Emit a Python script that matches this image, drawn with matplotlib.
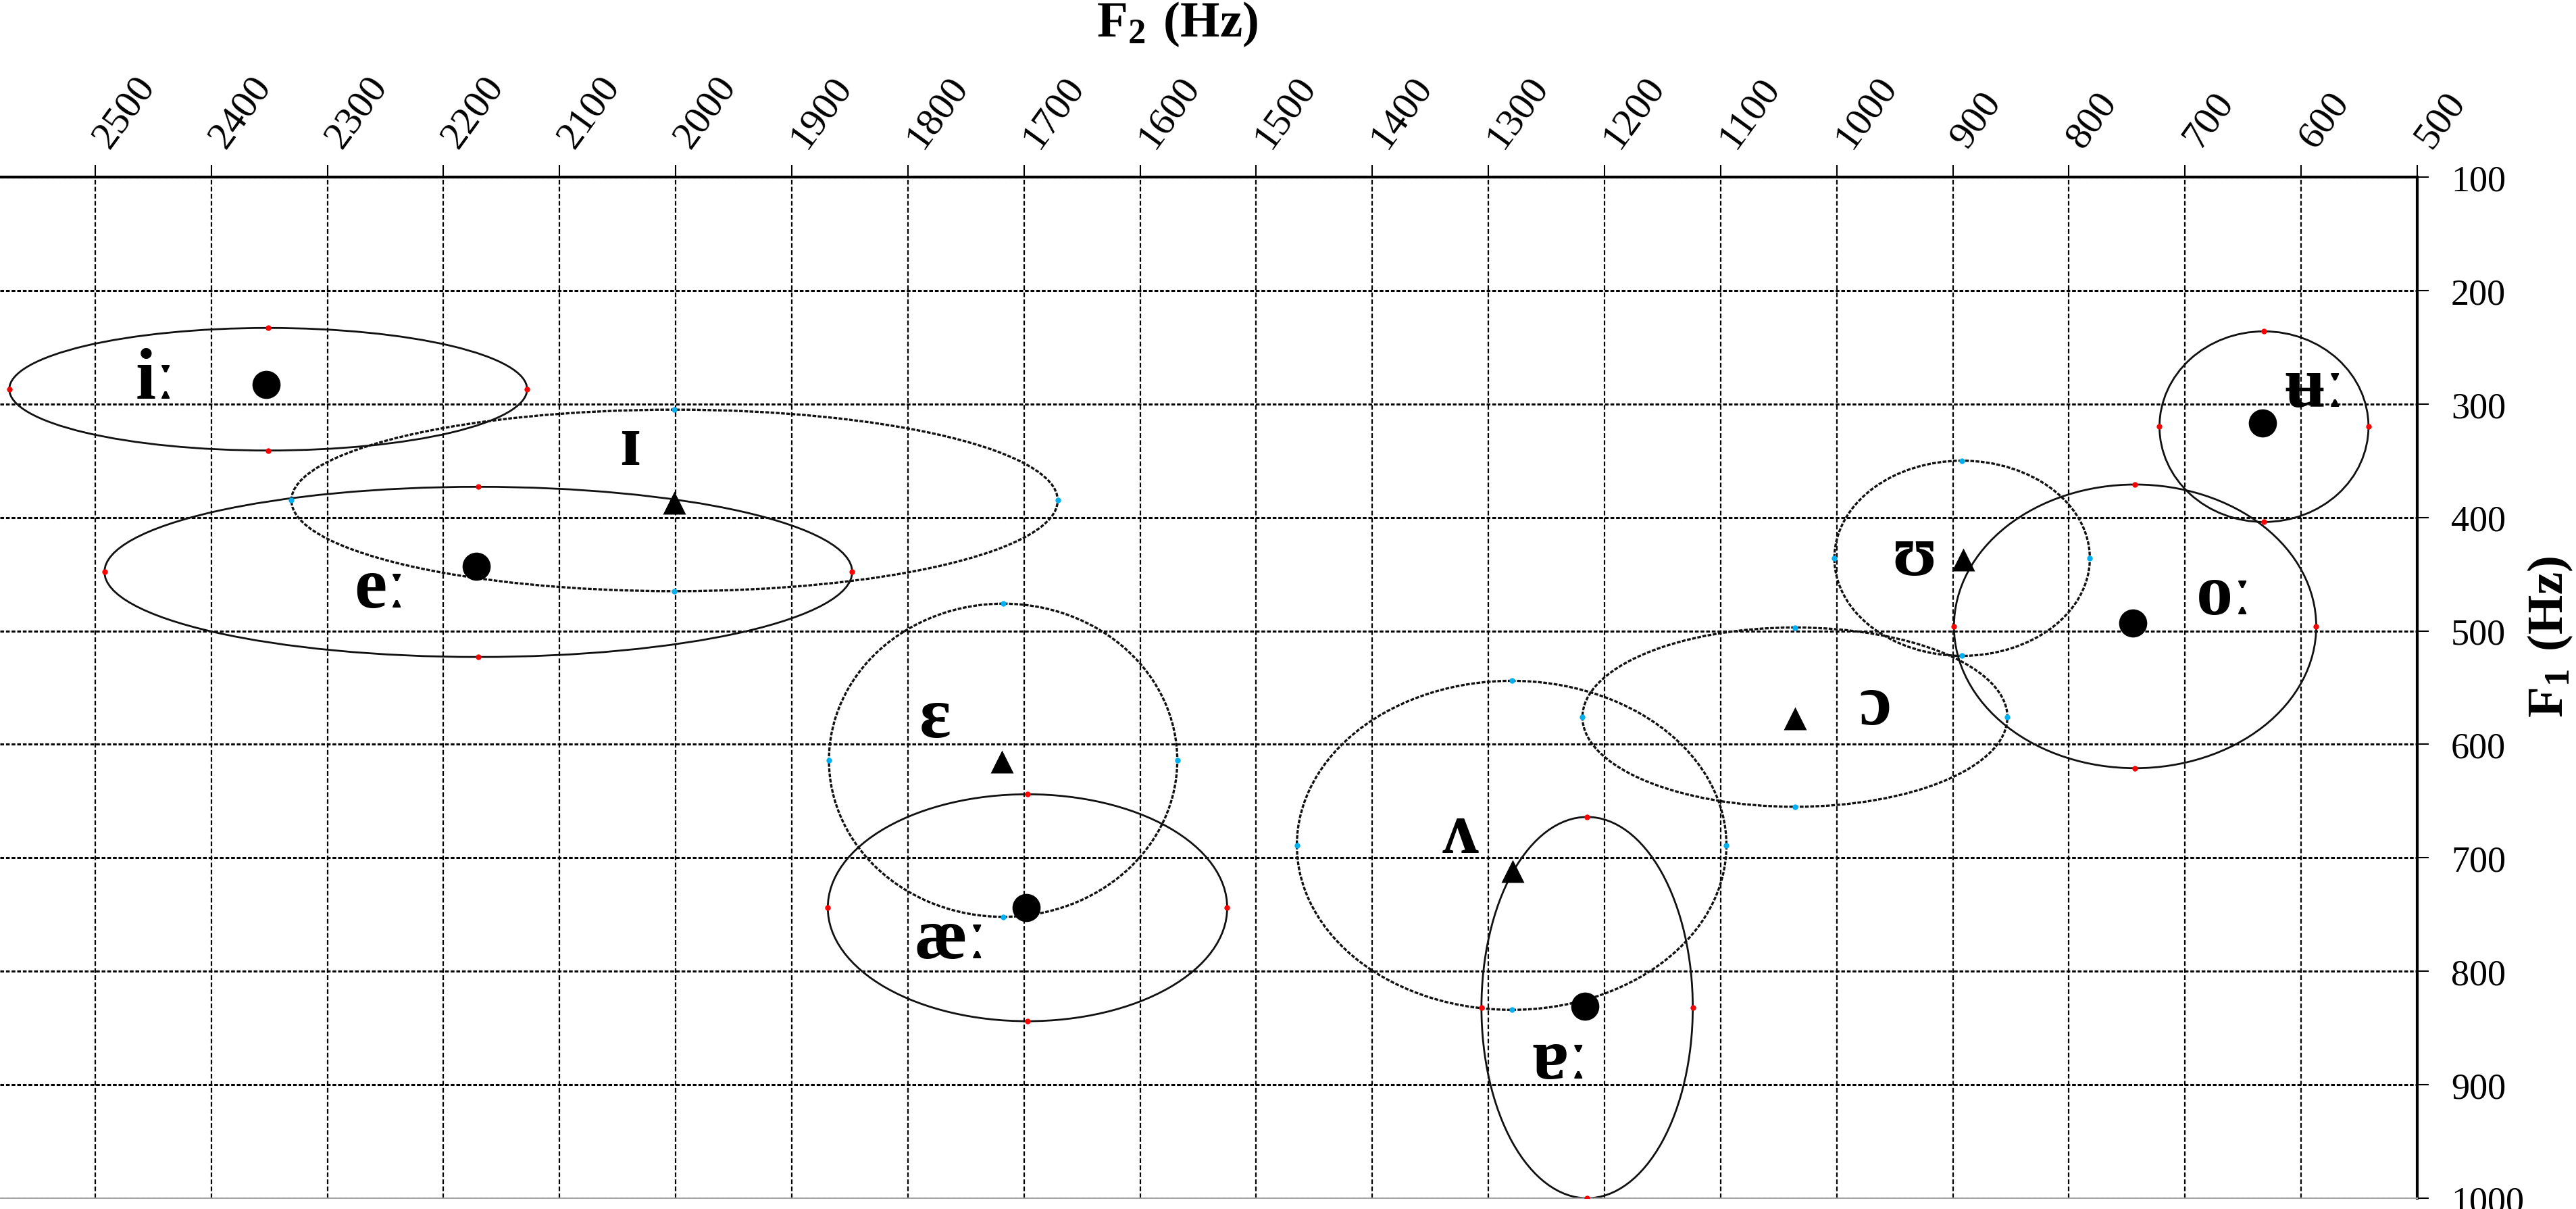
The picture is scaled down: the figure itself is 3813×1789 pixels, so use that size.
import matplotlib
matplotlib.use('Agg')
import matplotlib.pyplot as plt
import matplotlib.transforms as mtransforms
import numpy as np

from matplotlib.patches import Ellipse

plt.rcParams['font.family'] = ['Liberation Serif', 'DejaVu Serif']
plt.rcParams['mathtext.fontset'] = 'custom'
plt.rcParams['mathtext.rm'] = 'Liberation Serif'
plt.rcParams['mathtext.bf'] = 'Liberation Serif:bold'
plt.rcParams['lines.scale_dashes'] = False

# Vowel means and spread ellipses, all in Hz.
vowels = ['iː', 'ɪ', 'eː', 'ɛ', 'æː', 'ʌ', 'ɐː', 'ɔ', 'ʊ', 'oː', 'ʉː']
is_long = [True, False, True, False, True, False, True, False, False, True, True]
f2_mean = [2353, 2001, 2172, 1719, 1698, 1279, 1217, 1036, 891, 745, 633]
f1_mean = [283, 387, 443, 615, 744, 712, 831, 577, 437, 493, 317]
f2_centre = [2351, 2001, 2170, 1718, 1697, 1280, 1215, 1036, 892, 743, 632]
f1_centre = [287, 385, 448, 614, 744, 689, 832, 576, 436, 496, 320]
f2_radius = [223, 330, 322, 150, 172, 185, 91, 183, 110, 156, 90]
f1_radius = [54, 80, 75, 138, 100, 145, 168, 79, 86, 125, 84]

# Where the vowel symbols sit (centre of text, baseline), Hz.
label_f2 = [2448, 2039, 2254, 1777, 1763, 1324, 1238, 967, 933, 666, 588]
label_f1 = [295, 353, 479, 593, 788, 695, 894, 582, 450, 485, 302]

f2_ticks = np.arange(500, 2501, 100)
f1_ticks = np.arange(100, 1001, 100)

W, H = 3813, 1790
fig = plt.figure(figsize=(W / 100, H / 100), dpi=100)
ax = fig.add_axes([0, 1 - 1774 / H, 3578 / W, (1774 - 263) / H])

ax.set_xlim(2582, 500)
ax.set_ylim(1000, 100)
ax.set_axisbelow(True)

ax.set_xticks(f2_ticks)
ax.set_xticklabels([str(t) for t in f2_ticks], rotation=54, ha='left',
                   va='bottom', rotation_mode='anchor')
ax.set_yticks(f1_ticks)
ax.set_yticklabels([str(t) for t in f1_ticks])

ax.tick_params(axis='x', top=True, bottom=False, labeltop=True,
               labelbottom=False, direction='out', length=13, width=1.5,
               pad=12, labelsize=42)
ax.tick_params(axis='y', left=False, right=True, labelleft=False,
               labelright=True, direction='out', length=12, width=1.5,
               pad=24, labelsize=39)

# Nudge the slanted top labels to the right of their ticks.
shift = mtransforms.ScaledTranslation(0.30, 0, fig.dpi_scale_trans)
for lbl in ax.get_xticklabels():
    lbl.set_transform(lbl.get_transform() + shift)

ax.xaxis.grid(True, linestyle=(0, (5, 2.5)), linewidth=1.6, color='black')
ax.yaxis.grid(True, linestyle=(0, (4, 2)), linewidth=2.2, color='black')

ax.spines['left'].set_visible(False)
ax.spines['bottom'].set_color('#a6a6a6')
ax.spines['bottom'].set_linewidth(1.5)
ax.spines['top'].set_linewidth(3)
ax.spines['right'].set_linewidth(3)

for i, v in enumerate(vowels):
    cx, cy = f2_centre[i], f1_centre[i]
    rx, ry = f2_radius[i], f1_radius[i]
    if is_long[i]:
        ell = Ellipse((cx, cy), 2 * rx, 2 * ry, fill=False, edgecolor='#111111',
                      linewidth=2.0, zorder=2)
        dot_col, marker, ms = '#ff0000', 'o', 30
    else:
        ell = Ellipse((cx, cy), 2 * rx, 2 * ry, fill=False, edgecolor='#111111',
                      linewidth=2.4, linestyle=(0, (4, 1.6)), zorder=2)
        dot_col, marker, ms = '#00b0f0', '^', 24
    ax.add_patch(ell)

    # Small dots at the ends of both ellipse axes.
    ax.plot([cx - rx, cx + rx, cx, cx], [cy, cy, cy - ry, cy + ry], 'o',
            color=dot_col, ms=6, mec='none', zorder=3)

    ax.plot(f2_mean[i], f1_mean[i], marker=marker, ms=ms, color='black',
            mec='none', linestyle='none', zorder=5)

    ax.text(label_f2[i], label_f1[i], v, ha='center', va='baseline',
            fontsize=78, fontweight='bold', zorder=6)

fig.text(1742 / W, 1 - 36 / H, r'$\mathbf{F_{2}\ (Hz)}$', ha='center',
         va='center', fontsize=54)
fig.text(3775 / W, 1 - 943 / H, r'$\mathbf{F_{1}\ (Hz)}$', ha='center',
         va='center', rotation=90, fontsize=54)

fig.savefig('out.png', dpi=100)
